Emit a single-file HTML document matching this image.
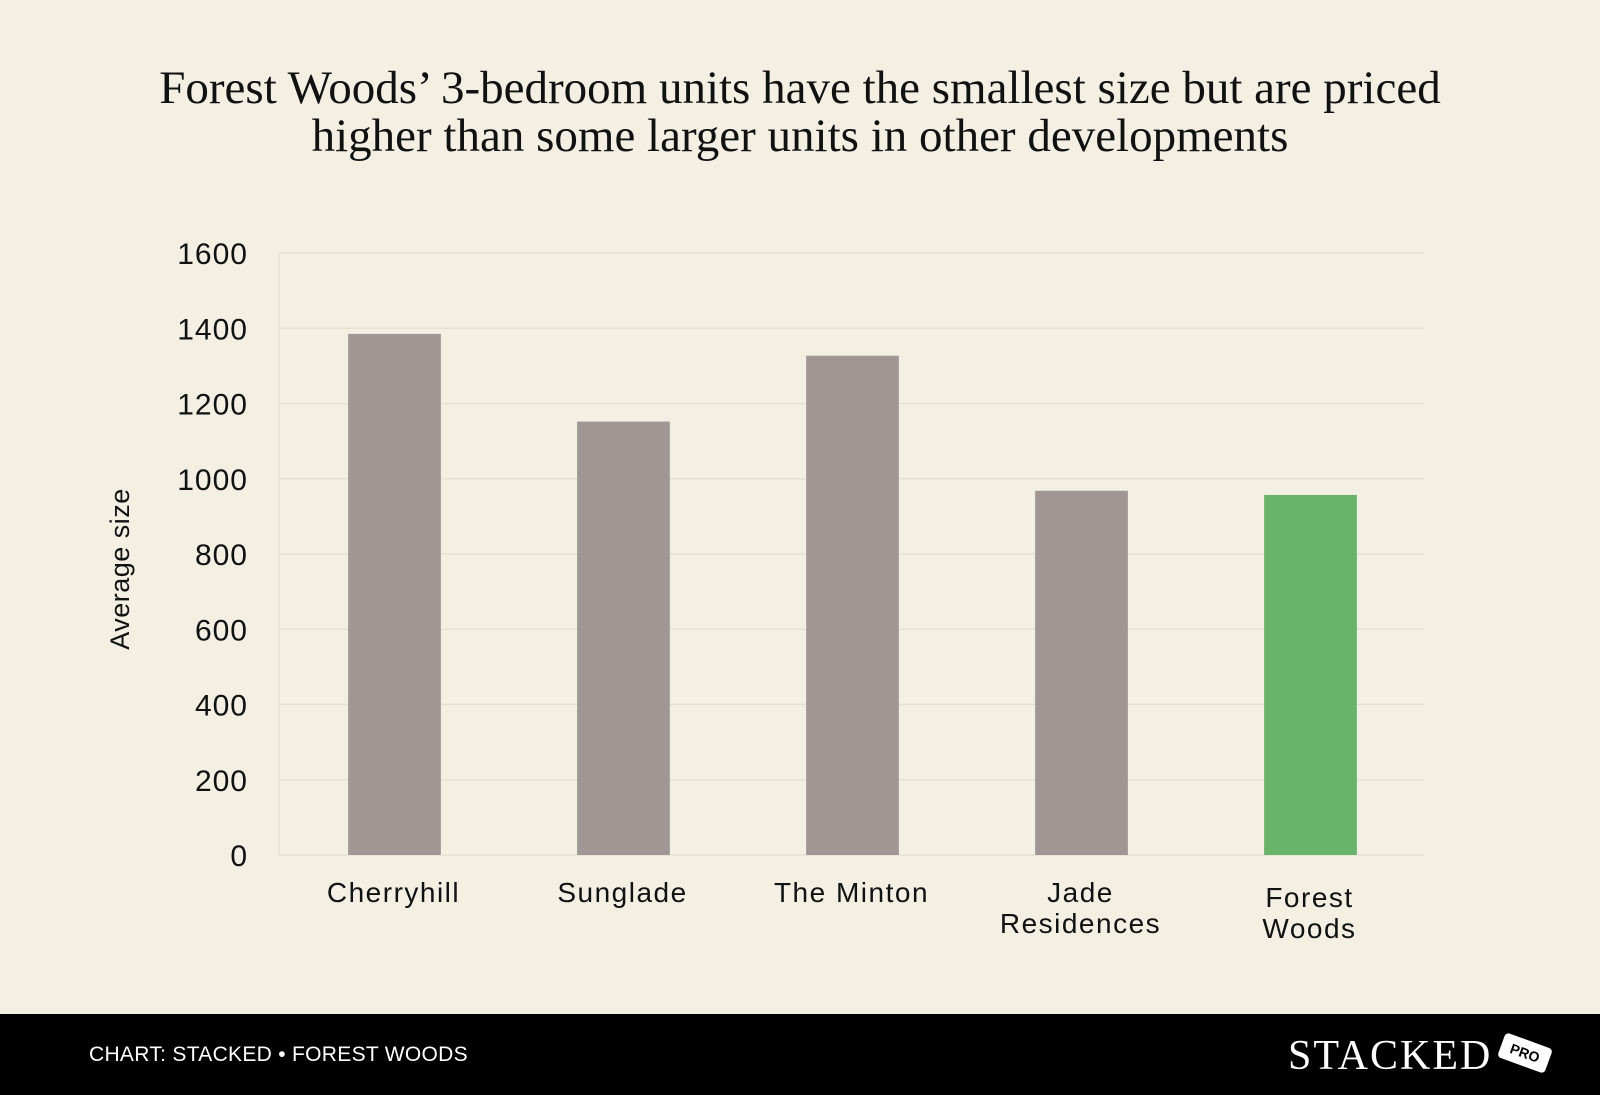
<!DOCTYPE html>
<html><head><meta charset="utf-8"><style>
body{margin:0;width:1600px;height:1095px;background:#f3efe3;font-family:"Liberation Sans",sans-serif;overflow:hidden;position:relative}
#title{position:absolute;top:64px;left:0;width:1600px;text-align:center;font-family:"Liberation Serif",serif;font-size:47px;line-height:48px;color:#111}
#footer{position:absolute;left:0;top:1014px;width:1600px;height:81px;background:#000}
#credit{position:absolute;left:89px;top:1043px;color:#fff;font-size:21px;letter-spacing:0.3px}
#logo{position:absolute;left:1288px;top:1032px;color:#fff;font-family:"Liberation Serif",serif;font-size:42px;letter-spacing:2px}
#pro{position:absolute;left:1500px;top:1040px;width:50px;height:26px;background:#fff;color:#000;border-radius:4px;transform:rotate(20deg);font-size:14px;font-weight:bold;text-align:center;line-height:26px}
svg{position:absolute;left:0;top:0}
</style></head><body>
<div id="title">Forest Woods’ 3-bedroom units have the smallest size but are priced<br>higher than some larger units in other developments</div>
<svg id="chart" width="1600" height="1014"></svg>
<div id="footer"></div>
<div id="credit">CHART: STACKED • FOREST WOODS</div>
<div id="logo">STACKED</div>
<div id="pro">PRO</div>
<script>
const categories=[["Cherryhill"],["Sunglade"],["The Minton"],["Jade","Residences"],["Forest","Woods"]];
const values=[1385,1152,1327,968,957];
const ticks=[0,200,400,600,800,1000,1200,1400,1600];
const highlight=[false,false,false,false,true];
const svg=document.getElementById('chart');
const NS="http://www.w3.org/2000/svg";
const x0=279,x1=1424,yTop=253,yBot=855,maxV=1600;
const band=(x1-x0)/categories.length;
const y=v=>yBot-(v/maxV)*(yBot-yTop);
function mk(t,a){const e=document.createElementNS(NS,t);for(const k in a)e.setAttribute(k,a[k]);svg.appendChild(e);return e;}
ticks.forEach(t=>{
 const l=mk('line',{x1:x0,x2:x1,y1:y(t),y2:y(t),stroke:'#e6e1d4','stroke-width':1.5});
 
 
 const tx=mk('text',{x:248,y:y(t)+11,'text-anchor':'end','font-size':30,fill:'#111','letter-spacing':1});
 tx.textContent=t;
 
 
});
const ax=mk('line',{x1:x0,x2:x0,y1:yTop,y2:yBot,stroke:'#e6e1d4','stroke-width':1.5});


const yt=mk('text',{x:0,y:0,'font-size':27,fill:'#111','text-anchor':'middle',transform:'translate(129,569) rotate(-90)','letter-spacing':0.5});
yt.textContent='Average size';


const bw=band*0.405;
values.forEach((v,i)=>{
 const cx=x0+band*(i+0.5);
 const r=mk('rect',{x:cx-bw/2+1,y:y(v),width:bw,height:yBot-y(v),fill:highlight[i]?'#69b36b':'#a09795'});
 
 
 const lines=categories[i];
 const baseY=lines.length>1?(highlight[i]?907:902):902;
 lines.forEach((s,j)=>{
  const t=mk('text',{x:cx,y:baseY+j*31,'text-anchor':'middle','font-size':28,fill:'#111','letter-spacing':1.5});
  t.textContent=s;
  
  
 });
});
</script>
</body></html>
